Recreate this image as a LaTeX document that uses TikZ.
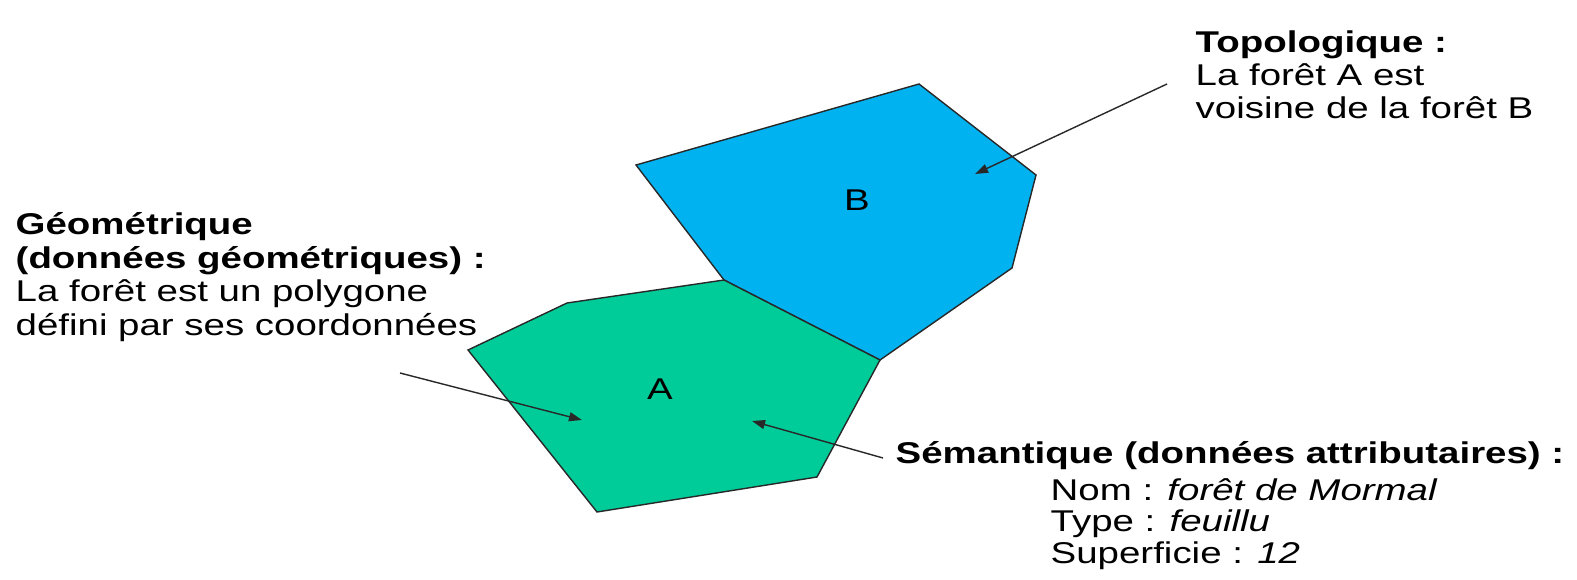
\documentclass[tikz,border=0pt]{standalone}
\usepackage{fontspec}
\setmainfont{Liberation Sans}[FakeStretch=1.28]
\usetikzlibrary{arrows.meta}
\definecolor{ForetA}{RGB}{0,204,153}
\definecolor{ForetB}{RGB}{0,178,240}
\definecolor{EdgeDark}{RGB}{40,40,40}

\begin{document}
\begin{tikzpicture}[x=0.01cm, y=-0.01cm,
    foret/.style={draw=EdgeDark, line width=0.4pt, line join=miter},
    lbl/.style={inner sep=0pt, font=\fontsize{8.54}{9.5}\selectfont},
    txt/.style={align=left, anchor=base west, inner sep=0pt,
                font=\fontsize{8.54}{9.5}\selectfont},
    arr/.style={-{Triangle[length=0.13cm, width=0.09cm]}, line width=0.4pt, EdgeDark}
  ]
    \useasboundingbox (0,0) rectangle (1577,579);

    % sommets communs aux deux forets
    \coordinate (j1) at (724,280);
    \coordinate (j2) at (880,360);

    \draw[foret, fill=ForetB] (636,165) -- (919,84) -- (1036,175) -- (1012,268) -- (j2) -- (j1) -- cycle;
    \draw[foret, fill=ForetA] (468,350) -- (567,303) -- (j1) -- (j2) -- (817,477) -- (597,512) -- cycle;

    \node[lbl] (labB) at (857,200) {B};
    \node[lbl] (labA) at (660,389) {A};

    % base = ligne du bas
    \node[txt] (topo) at (1195,119) {\textbf{Topologique :}\\La forêt A est\\voisine de la forêt B};
    \node[txt] (geo) at (15,335) {\textbf{Géométrique}\\\textbf{(données géométriques) :}\\La forêt est un polygone\\défini par ses coordonnées};
    \node[txt] (sem) at (895,463) {\textbf{Sémantique (données attributaires) :}};
    \node[txt, font=\fontsize{8.54}{8.85}\selectfont] (attr) at (1050,563)
      {Nom : \textit{forêt de Mormal}\\Type : \textit{feuillu}\\Superficie : \textit{12}};

    % fleches
    \coordinate (topoS) at (1167,84);
    \coordinate (topoT) at (975,174);
    \coordinate (geoS) at (400,373);
    \coordinate (geoT) at (582,420);
    \coordinate (semS) at (883,458);
    \coordinate (semT) at (752,421);

    \draw[arr] (topoS) -- (topoT);
    \draw[arr] (geoS) -- (geoT);
    \draw[arr] (semS) -- (semT);
  \end{tikzpicture}
\end{document}
